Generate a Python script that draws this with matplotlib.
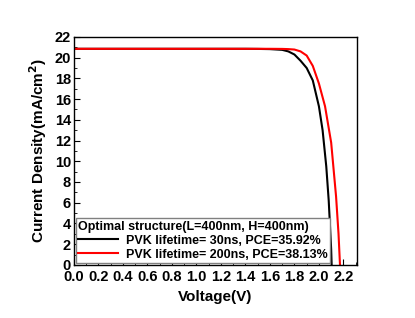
import matplotlib
matplotlib.use("Agg")
import matplotlib.pyplot as plt
from matplotlib.ticker import MultipleLocator

plt.rcParams['font.family'] = ['Liberation Sans', 'DejaVu Sans']
plt.rcParams['font.weight'] = 'bold'

# J-V data
v_30 = [0.0, 0.2, 0.4, 0.6, 0.8, 1.0, 1.2, 1.4, 1.5, 1.6, 1.7, 1.75, 1.8, 1.85,
        1.9, 1.95, 2.0, 2.03, 2.06, 2.08, 2.1, 2.104]
j_30 = [20.85, 20.85, 20.85, 20.85, 20.85, 20.85, 20.85, 20.85, 20.84, 20.82,
        20.75, 20.6, 20.3, 19.7, 19.0, 17.8, 15.3, 13.0, 9.5, 6.2, 1.5, 0.0]

v_200 = [0.0, 0.2, 0.4, 0.6, 0.8, 1.0, 1.2, 1.4, 1.5, 1.6, 1.7, 1.75, 1.8, 1.85,
         1.9, 1.95, 2.0, 2.05, 2.1, 2.14, 2.16, 2.172]
j_200 = [20.85, 20.85, 20.85, 20.85, 20.85, 20.85, 20.85, 20.85, 20.85, 20.85,
         20.84, 20.82, 20.78, 20.6, 20.2, 19.2, 17.5, 15.3, 11.8, 6.6, 3.0, 0.0]

labels = ["PVK lifetime= 30ns, PCE=35.92%", "PVK lifetime= 200ns, PCE=38.13%"]

fig = plt.figure(figsize=(4.15, 3.18), dpi=100)
ax = fig.add_axes([0.178, 0.167, 0.682, 0.717])
ax.plot(v_30, j_30, color='black', lw=1.5, label=labels[0])
ax.plot(v_200, j_200, color='red', lw=1.5, label=labels[1])

ax.set_xlim(0, 2.31)
ax.set_ylim(0, 22)
ax.xaxis.set_major_locator(MultipleLocator(0.2))
ax.xaxis.set_minor_locator(MultipleLocator(0.1))
ax.yaxis.set_major_locator(MultipleLocator(2))
ax.yaxis.set_minor_locator(MultipleLocator(1))
ax.tick_params(which='both', direction='in', top=False, right=False)
ax.tick_params(which='major', length=4, labelsize=10.5)
ax.tick_params(axis='x', which='major', pad=4)
ax.tick_params(axis='y', which='major', pad=2)
ax.tick_params(which='minor', length=2)
for s in ax.spines.values():
    s.set_linewidth(1.0)

ax.set_xlabel('Voltage(V)', fontsize=11, fontweight='bold')
ax.set_ylabel('Current Density(mA/cm$^2$)', fontsize=11, fontweight='bold')

leg = ax.legend(title='Optimal structure(L=400nm, H=400nm)', loc='lower left',
                fontsize=9, title_fontsize=9, fancybox=False,
                borderaxespad=0.15, borderpad=0.2, handlelength=3.2,
                labelspacing=0.15, handletextpad=0.6, framealpha=1)
leg.get_title().set_fontweight('bold')
leg.get_frame().set_edgecolor('gray')
leg._legend_box.align = 'left'

fig.savefig('out.png', dpi=100)
